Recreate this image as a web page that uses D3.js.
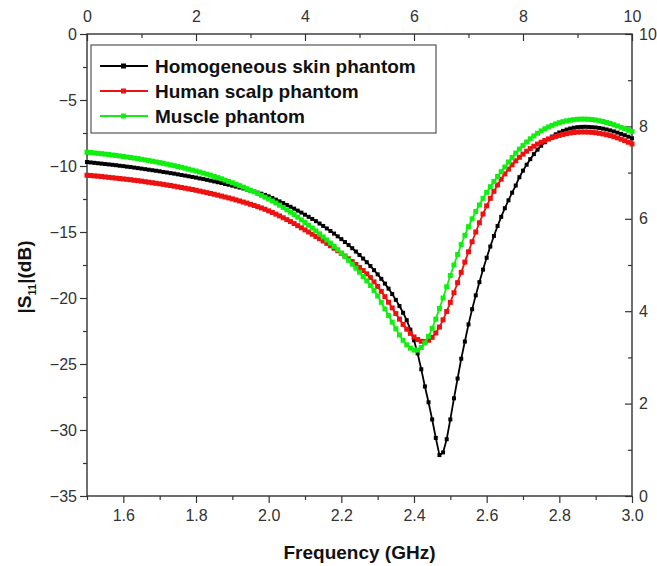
<!DOCTYPE html>
<html>
<head>
<meta charset="utf-8">
<script src="https://cdn.jsdelivr.net/npm/d3@7/dist/d3.min.js"></script>
<style>
  body { margin: 0; background: #fff; }
  svg { display: block; font-family: "Liberation Sans", Arial, sans-serif; }
</style>
</head>
<body>
<svg id="chart" width="657" height="566"></svg>
<script>
// frequency sweep (GHz)
const freq = [
  1.50,1.51,1.52,1.53,1.54,1.55,1.56,1.57,1.58,1.59,
  1.60,1.61,1.62,1.63,1.64,1.65,1.66,1.67,1.68,1.69,
  1.70,1.71,1.72,1.73,1.74,1.75,1.76,1.77,1.78,1.79,
  1.80,1.81,1.82,1.83,1.84,1.85,1.86,1.87,1.88,1.89,
  1.90,1.91,1.92,1.93,1.94,1.95,1.96,1.97,1.98,1.99,
  2.00,2.01,2.02,2.03,2.04,2.05,2.06,2.07,2.08,2.09,
  2.10,2.11,2.12,2.13,2.14,2.15,2.16,2.17,2.18,2.19,
  2.20,2.21,2.22,2.23,2.24,2.25,2.26,2.27,2.28,2.29,
  2.30,2.31,2.32,2.33,2.34,2.35,2.36,2.37,2.38,2.39,
  2.40,2.41,2.42,2.43,2.44,2.45,2.46,2.47,2.48,2.49,
  2.50,2.51,2.52,2.53,2.54,2.55,2.56,2.57,2.58,2.59,
  2.60,2.61,2.62,2.63,2.64,2.65,2.66,2.67,2.68,2.69,
  2.70,2.71,2.72,2.73,2.74,2.75,2.76,2.77,2.78,2.79,
  2.80,2.81,2.82,2.83,2.84,2.85,2.86,2.87,2.88,2.89,
  2.90,2.91,2.92,2.93,2.94,2.95,2.96,2.97,2.98,2.99,
  3.00
];

// |S11| in dB
const skin = [
  -9.70,-9.73,-9.76,-9.79,-9.82,-9.85,-9.88,-9.91,-9.94,-9.98,
  -10.01,-10.05,-10.08,-10.12,-10.16,-10.20,-10.24,-10.28,-10.32,-10.36,
  -10.40,-10.45,-10.49,-10.54,-10.58,-10.63,-10.68,-10.73,-10.78,-10.83,
  -10.88,-10.94,-10.99,-11.05,-11.11,-11.17,-11.23,-11.29,-11.36,-11.42,
  -11.49,-11.56,-11.63,-11.70,-11.78,-11.86,-11.94,-12.02,-12.10,-12.19,
  -12.30,-12.42,-12.55,-12.68,-12.81,-12.95,-13.09,-13.23,-13.38,-13.53,
  -13.69,-13.85,-14.01,-14.18,-14.36,-14.54,-14.73,-14.92,-15.12,-15.33,
  -15.54,-15.76,-15.99,-16.23,-16.48,-16.74,-17.01,-17.29,-17.58,-17.89,
  -18.21,-18.55,-18.91,-19.29,-19.70,-20.14,-20.61,-21.12,-21.68,-22.40,
  -23.20,-24.20,-25.40,-26.70,-27.90,-29.20,-30.60,-31.90,-31.70,-30.70,
  -29.20,-27.60,-26.10,-24.60,-23.30,-22.00,-20.85,-19.80,-18.80,-17.85,
  -16.95,-16.10,-15.30,-14.55,-13.85,-13.20,-12.60,-12.02,-11.48,-10.85,
  -10.35,-9.90,-9.48,-9.10,-8.76,-8.46,-8.20,-7.97,-7.77,-7.60,
  -7.46,-7.34,-7.24,-7.16,-7.10,-7.06,-7.04,-7.03,-7.04,-7.06,
  -7.08,-7.12,-7.17,-7.23,-7.30,-7.38,-7.47,-7.57,-7.67,-7.78,
  -7.90
];

const scalp = [
  -10.70,-10.72,-10.75,-10.77,-10.80,-10.83,-10.86,-10.89,-10.92,-10.95,
  -10.98,-11.01,-11.04,-11.08,-11.11,-11.15,-11.19,-11.23,-11.27,-11.31,
  -11.35,-11.39,-11.44,-11.48,-11.53,-11.58,-11.63,-11.68,-11.73,-11.78,
  -11.84,-11.90,-11.96,-12.02,-12.08,-12.14,-12.21,-12.28,-12.35,-12.42,
  -12.49,-12.57,-12.65,-12.73,-12.81,-12.90,-12.99,-13.08,-13.18,-13.28,
  -13.40,-13.52,-13.65,-13.78,-13.92,-14.06,-14.21,-14.36,-14.52,-14.68,
  -14.84,-15.00,-15.17,-15.34,-15.51,-15.68,-15.86,-16.04,-16.23,-16.42,
  -16.62,-16.82,-17.03,-17.24,-17.46,-17.69,-17.92,-18.17,-18.45,-18.78,
  -19.13,-19.50,-19.90,-20.32,-20.75,-21.18,-21.60,-22.00,-22.36,-22.68,
  -22.95,-23.15,-23.28,-23.30,-23.20,-22.98,-22.65,-22.20,-21.65,-21.02,
  -20.33,-19.60,-18.84,-18.06,-17.28,-16.50,-15.74,-15.00,-14.30,-13.64,
  -13.02,-12.45,-11.92,-11.44,-11.00,-10.60,-10.24,-9.91,-9.61,-9.34,
  -9.10,-8.88,-8.68,-8.50,-8.34,-8.20,-8.07,-7.95,-7.85,-7.76,
  -7.68,-7.61,-7.55,-7.50,-7.46,-7.43,-7.42,-7.42,-7.43,-7.45,
  -7.48,-7.52,-7.57,-7.63,-7.70,-7.78,-7.87,-7.97,-8.08,-8.20,
  -8.33
];

const muscle = [
  -8.95,-8.98,-9.01,-9.04,-9.07,-9.10,-9.13,-9.17,-9.20,-9.24,
  -9.28,-9.32,-9.36,-9.40,-9.44,-9.49,-9.54,-9.59,-9.64,-9.69,
  -9.74,-9.80,-9.86,-9.92,-9.98,-10.04,-10.10,-10.17,-10.24,-10.31,
  -10.38,-10.46,-10.54,-10.62,-10.70,-10.79,-10.88,-10.97,-11.07,-11.17,
  -11.27,-11.38,-11.49,-11.60,-11.72,-11.84,-11.96,-12.09,-12.22,-12.36,
  -12.50,-12.65,-12.80,-12.97,-13.14,-13.32,-13.50,-13.69,-13.88,-14.08,
  -14.28,-14.49,-14.70,-14.92,-15.14,-15.37,-15.60,-15.84,-16.09,-16.34,
  -16.60,-16.87,-17.15,-17.44,-17.74,-18.05,-18.37,-18.70,-19.05,-19.43,
  -19.85,-20.33,-20.83,-21.33,-21.83,-22.33,-22.80,-23.20,-23.55,-23.80,
  -23.95,-23.95,-23.75,-23.40,-22.90,-22.30,-21.60,-20.80,-20.00,-19.15,
  -18.30,-17.50,-16.70,-15.95,-15.25,-14.60,-14.00,-13.45,-12.95,-12.45,
  -12.00,-11.57,-11.17,-10.79,-10.43,-10.08,-9.70,-9.35,-9.02,-8.72,
  -8.44,-8.18,-7.94,-7.72,-7.52,-7.34,-7.18,-7.04,-6.92,-6.81,
  -6.72,-6.64,-6.58,-6.53,-6.49,-6.46,-6.45,-6.45,-6.46,-6.48,
  -6.52,-6.57,-6.63,-6.70,-6.78,-6.87,-6.97,-7.07,-7.18,-7.29,
  -7.40
];

const seriesNames = ["Homogeneous skin phantom", "Human scalp phantom", "Muscle phantom"];
const seriesColors = ["#000000", "#ee1111", "#11ee11"];
const markerSizes = [4, 5, 5];

// tick labels
const bottomMajor = [1.6, 1.8, 2.0, 2.2, 2.4, 2.6, 2.8, 3.0];
const bottomMinor = [1.5, 1.7, 1.9, 2.1, 2.3, 2.5, 2.7, 2.9];
const leftMajor = [0, -5, -10, -15, -20, -25, -30, -35];
const leftMinor = [-2.5, -7.5, -12.5, -17.5, -22.5, -27.5, -32.5];
const auxMajor = [0, 2, 4, 6, 8, 10];
const auxMinor = [1, 3, 5, 7, 9];

const svg = d3.select("#chart");
const margin = { top: 34, right: 25, bottom: 70, left: 87 };
const width = 657, height = 566;
const x0 = margin.left, x1 = width - margin.right;
const y0 = margin.top, y1 = height - margin.bottom;

const x = d3.scaleLinear().domain([1.5, 3.0]).range([x0, x1]);
const y = d3.scaleLinear().domain([-35, 0]).range([y1, y0]);
const xTop = d3.scaleLinear().domain([0, 10]).range([x0, x1]);
const yRight = d3.scaleLinear().domain([0, 10]).range([y1, y0]);

const axisColor = "#333";

function styleAxis(g) {
  g.select(".domain").remove();
  g.selectAll("line").attr("stroke", axisColor).attr("stroke-width", 1.2);
  g.selectAll("text").attr("fill", "#333").style("font-size", "16px")
    .style("font-family", "'Liberation Sans', Arial, sans-serif");
}

// bottom axis
svg.append("g").attr("transform", `translate(0,${y1})`)
  .call(d3.axisBottom(x).tickValues(bottomMajor).tickFormat(d3.format(".1f")).tickSize(7).tickPadding(7))
  .call(styleAxis);
svg.append("g").attr("transform", `translate(0,${y1})`)
  .call(d3.axisBottom(x).tickValues(bottomMinor).tickFormat("").tickSize(4))
  .call(styleAxis);

// left axis
svg.append("g").attr("transform", `translate(${x0},0)`)
  .call(d3.axisLeft(y).tickValues(leftMajor).tickSize(7).tickPadding(3))
  .call(styleAxis);
svg.append("g").attr("transform", `translate(${x0},0)`)
  .call(d3.axisLeft(y).tickValues(leftMinor).tickFormat("").tickSize(4))
  .call(styleAxis);

// top axis (ticks inward)
svg.append("g").attr("transform", `translate(0,${y0})`)
  .call(d3.axisTop(xTop).tickValues(auxMajor).tickSize(-7).tickPadding(12))
  .call(styleAxis);
svg.append("g").attr("transform", `translate(0,${y0})`)
  .call(d3.axisTop(xTop).tickValues(auxMinor).tickFormat("").tickSize(-4))
  .call(styleAxis);

// right axis (ticks inward)
svg.append("g").attr("transform", `translate(${x1},0)`)
  .call(d3.axisRight(yRight).tickValues(auxMajor).tickSize(-7).tickPadding(7))
  .call(styleAxis);
svg.append("g").attr("transform", `translate(${x1},0)`)
  .call(d3.axisRight(yRight).tickValues(auxMinor).tickFormat("").tickSize(-4))
  .call(styleAxis);

// frame
svg.append("rect")
  .attr("x", x0).attr("y", y0)
  .attr("width", x1 - x0).attr("height", y1 - y0)
  .attr("fill", "none").attr("stroke", axisColor).attr("stroke-width", 1.4);

// curves
const plot = svg.append("g");
const line = d3.line().x((d, i) => x(freq[i])).y(d => y(d));
[skin, scalp, muscle].forEach((vals, k) => {
  const g = plot.append("g");
  const s = markerSizes[k];
  g.append("path")
    .datum(vals)
    .attr("d", line)
    .attr("fill", "none")
    .attr("stroke", seriesColors[k])
    .attr("stroke-width", 1.8);
  g.selectAll("rect")
    .data(vals)
    .enter().append("rect")
    .attr("x", (d, i) => x(freq[i]) - s / 2)
    .attr("y", d => y(d) - s / 2)
    .attr("width", s)
    .attr("height", s)
    .attr("fill", seriesColors[k]);
});

// legend
const legend = svg.append("g");
legend.append("rect")
  .attr("x", 91).attr("y", 45).attr("width", 345).attr("height", 88)
  .attr("fill", "#fff").attr("stroke", "#555").attr("stroke-width", 1.2);
seriesNames.forEach((name, k) => {
  const ly = 66 + k * 25;
  legend.append("line")
    .attr("x1", 100).attr("x2", 148).attr("y1", ly).attr("y2", ly)
    .attr("stroke", seriesColors[k]).attr("stroke-width", 2);
  legend.append("rect")
    .attr("x", 121).attr("y", ly - 2.5).attr("width", 5).attr("height", 5)
    .attr("fill", seriesColors[k]);
  legend.append("text")
    .attr("x", 155).attr("y", ly + 7)
    .style("font-size", "19px").style("font-weight", "bold")
    .attr("fill", "#111")
    .text(name);
});

// axis titles
svg.append("text")
  .attr("x", (x0 + x1) / 2).attr("y", 559)
  .attr("text-anchor", "middle")
  .style("font-size", "19px").style("font-weight", "bold").attr("fill", "#111")
  .text("Frequency (GHz)");

const yt = svg.append("text")
  .attr("transform", "translate(31,277) rotate(-90)")
  .attr("text-anchor", "middle")
  .style("font-size", "19px").style("font-weight", "bold").attr("fill", "#111");
yt.append("tspan").text("|S");
yt.append("tspan").attr("dy", 5).style("font-size", "11px").text("11");
yt.append("tspan").attr("dy", -5).text("|(dB)");
</script>
</body>
</html>
